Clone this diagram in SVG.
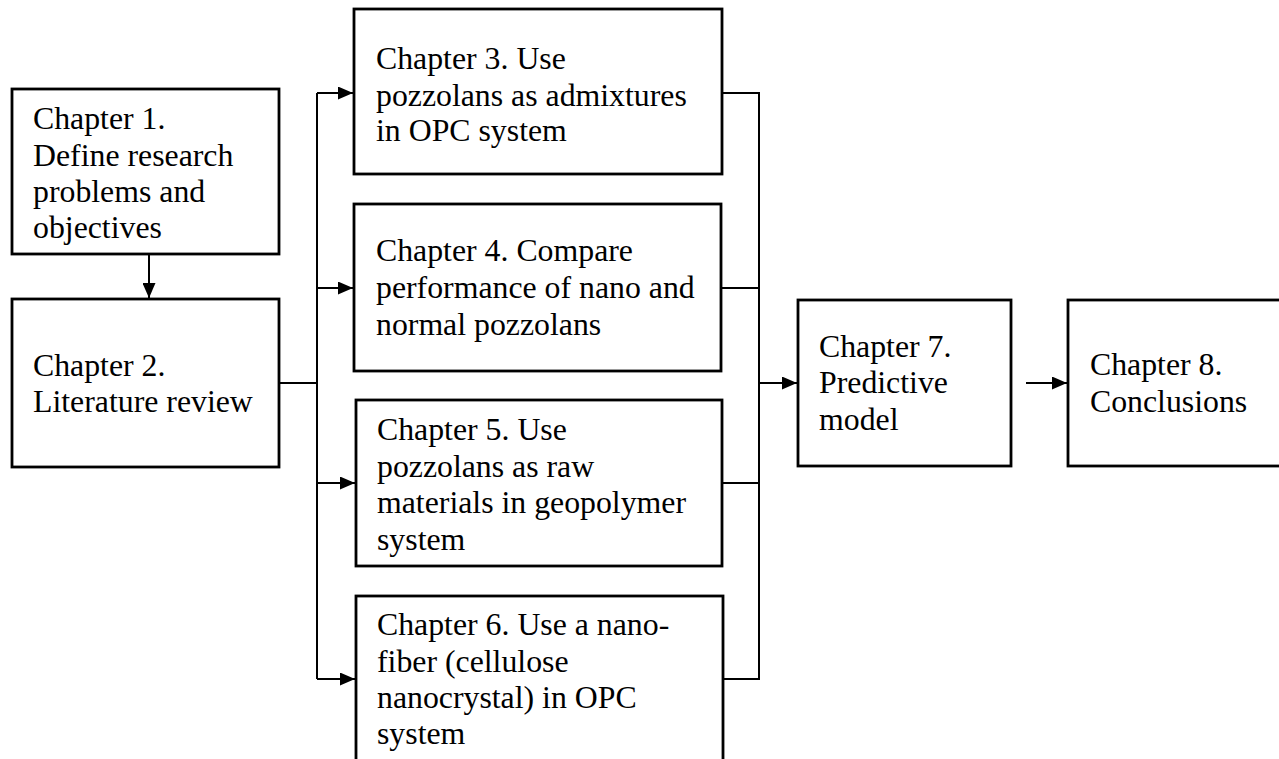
<svg xmlns="http://www.w3.org/2000/svg" width="1279" height="759" viewBox="0 0 1279 759">
<style>
.box{fill:#fff;stroke:#000;stroke-width:2.8}
.t{font-family:'Liberation Serif',Tinos,'Times New Roman',Times,'DejaVu Serif',serif;font-size:31.8px;fill:#000}
.c{fill:none;stroke:#000;stroke-width:2}
</style>
<defs>
<marker id="ah" markerWidth="15" markerHeight="13" refX="15" refY="6.5" orient="auto" markerUnits="userSpaceOnUse">
<path d="M0,0 L15,6.5 L0,13 Z" fill="#000"/>
</marker>
</defs>
<rect width="1279" height="759" fill="#fff"/>
<g id="connectors">
<path class="c" d="M149,254 V298" marker-end="url(#ah)"/>
<path class="c" d="M279,383 H317"/>
<path class="c" d="M317,93 V679"/>
<path class="c" d="M317,93 H353" marker-end="url(#ah)"/>
<path class="c" d="M317,288 H353" marker-end="url(#ah)"/>
<path class="c" d="M317,483 H355" marker-end="url(#ah)"/>
<path class="c" d="M317,679 H355" marker-end="url(#ah)"/>
<path class="c" d="M722,93 H759 V679 H723"/>
<path class="c" d="M721,288 H759"/>
<path class="c" d="M722,483 H759"/>
<path class="c" d="M759,383 H797" marker-end="url(#ah)"/>
<path class="c" d="M1026,383 H1067" marker-end="url(#ah)"/>
</g>
<g id="ch1">
<rect class="box" x="12" y="89" width="267" height="165"/>
<text class="t" x="33" y="129">Chapter 1.</text>
<text class="t" x="33" y="166">Define research</text>
<text class="t" x="33" y="202">problems and</text>
<text class="t" x="33" y="238">objectives</text>
</g>
<g id="ch2">
<rect class="box" x="12" y="299" width="267" height="168"/>
<text class="t" x="33" y="376">Chapter 2.</text>
<text class="t" x="33" y="412">Literature review</text>
</g>
<g id="ch3">
<rect class="box" x="354" y="9" width="368" height="165"/>
<text class="t" x="376" y="69">Chapter 3. Use</text>
<text class="t" x="376" y="106">pozzolans as admixtures</text>
<text class="t" x="376" y="141">in OPC system</text>
</g>
<g id="ch4">
<rect class="box" x="354" y="204" width="367" height="167"/>
<text class="t" x="376" y="261">Chapter 4. Compare</text>
<text class="t" x="376" y="298">performance of nano and</text>
<text class="t" x="376" y="335">normal pozzolans</text>
</g>
<g id="ch5">
<rect class="box" x="356" y="400" width="366" height="166"/>
<text class="t" x="377" y="440">Chapter 5. Use</text>
<text class="t" x="377" y="477">pozzolans as raw</text>
<text class="t" x="377" y="513">materials in geopolymer</text>
<text class="t" x="377" y="550">system</text>
</g>
<g id="ch6">
<rect class="box" x="356" y="596" width="367" height="175"/>
<text class="t" x="377" y="635">Chapter 6. Use a nano-</text>
<text class="t" x="377" y="672">fiber (cellulose</text>
<text class="t" x="377" y="708">nanocrystal) in OPC</text>
<text class="t" x="377" y="744">system</text>
</g>
<g id="ch7">
<rect class="box" x="798" y="300" width="213" height="166"/>
<text class="t" x="819" y="357">Chapter 7.</text>
<text class="t" x="819" y="393">Predictive</text>
<text class="t" x="819" y="430">model</text>
</g>
<g id="ch8">
<rect class="box" x="1068" y="300" width="220" height="166"/>
<text class="t" x="1090" y="375">Chapter 8.</text>
<text class="t" x="1090" y="412">Conclusions</text>
</g>
</svg>
